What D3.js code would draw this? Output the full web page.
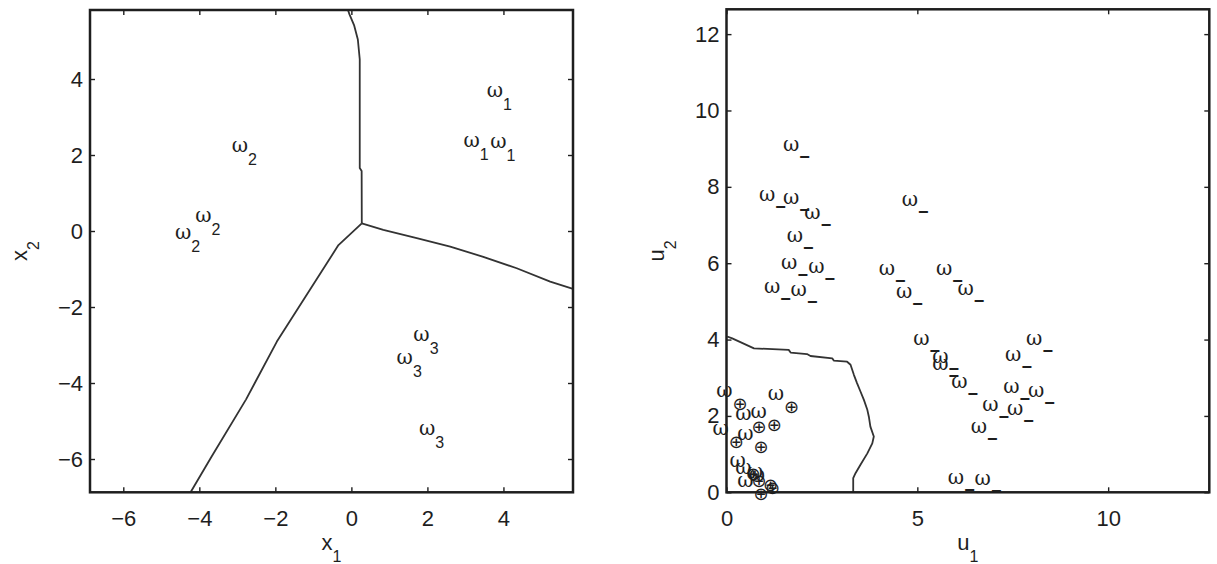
<!DOCTYPE html>
<html><head><meta charset="utf-8">
<script src="https://cdn.jsdelivr.net/npm/d3@7"></script>
<style>body{margin:0;background:#fff} svg{display:block}</style>
</head><body>
<svg id="c" width="1217" height="564"></svg>
<script>
// ---- Left panel data ----
const leftXTicks = [-6,-4,-2,0,2,4];
const leftYTicks = [-6,-4,-2,0,2,4];
const leftXDomain = [-6.876, 5.83];
const leftYDomain = [-6.876, 5.816];
const class1 = [[3.56,3.67],[2.95,2.34],[3.65,2.31]];
const class2 = [[-3.15,2.22],[-4.11,0.38],[-4.64,-0.08]];
const class3 = [[1.63,-2.76],[1.19,-3.37],[1.78,-5.24]];
const boundaryUp = [[0.274,0.2],[0.27,1.58],[0.22,1.66],[0.22,4.52],[0.17,5.04],[0.07,5.42],[-0.05,5.70],[-0.09,5.816]];
const boundaryRight = [[0.274,0.2],[0.84,0.03],[1.72,-0.19],[2.60,-0.41],[3.47,-0.68],[4.35,-0.98],[5.23,-1.33],[5.83,-1.52]];
const boundaryDown = [[0.274,0.2],[-0.34,-0.37],[-1.96,-2.91],[-2.77,-4.43],[-3.68,-5.94],[-4.23,-6.876]];

// ---- Right panel data ----
const rightXTicks = [0,5,10];
const rightYTicks = [0,2,4,6,8,10,12];
const rightXDomain = [0, 12.65];
const rightYDomain = [0, 12.65];
const classMinus = [[1.48,9.08],[0.85,7.76],[1.48,7.67],[2.04,7.29],[1.58,6.68],[1.43,5.97],[2.14,5.88],
  [0.98,5.36],[1.68,5.26],[4.59,7.62],[3.99,5.81],[4.44,5.22],[5.49,5.81],[6.05,5.31],[4.89,3.99],
  [5.39,3.52],[5.39,3.33],[5.89,2.86],[6.70,2.25],[6.40,1.68],[7.85,3.99],[7.30,3.57],[7.25,2.72],
  [7.90,2.64],[7.35,2.16],[5.80,0.36],[6.50,0.32]];
const classPlus = [[-0.27,2.64],[1.08,2.54],[0.23,2.02],[0.63,2.07],[-0.37,1.64],[0.28,1.51],
  [0.08,0.79],[0.23,0.60],[0.53,0.50],[0.28,0.27],[0.58,0.42]];
const boundaryPlus = [[0.02,4.08],[0.15,4.03],[0.72,3.77],[1.63,3.73],[1.68,3.66],[2.11,3.62],[2.20,3.57],
  [2.77,3.51],[2.81,3.45],[3.16,3.42],[3.25,3.34],[3.34,3.07],[3.42,2.86],[3.51,2.64],[3.60,2.42],
  [3.69,2.16],[3.73,1.98],[3.77,1.72],[3.86,1.46],[3.82,1.28],[3.69,1.02],[3.51,0.72],[3.38,0.50],
  [3.32,0.37],[3.32,0]];

const svg = d3.select("#c");
const INK = "#1e1e1e";

function panel(o) {
  const x = d3.scaleLinear().domain(o.xd).range([o.left, o.right]);
  const y = d3.scaleLinear().domain(o.yd).range([o.bottom, o.top]);
  const g = svg.append("g");
  const line = d3.line().x(d => x(d[0])).y(d => y(d[1]));
  o.lines.forEach(l => g.append("path").attr("d", line(l)).attr("fill","none")
     .attr("stroke","#333").attr("stroke-width",1.8).attr("stroke-linejoin","round"));

  o.labels.forEach(L => {
    const t = g.append("g").selectAll("text").data(L.pts).join("text")
      .attr("x", d => x(d[0])).attr("y", d => y(d[1]) + 5).attr("fill", INK);
    t.append("tspan").attr("font-family","DejaVu Serif").attr("font-size",20).text("ω");
    t.append("tspan").attr("font-family", L.font).attr("font-size", L.size)
      .attr("font-weight", L.weight || "normal").attr("dx", L.dx || 0).attr("dy", L.dy || 13).text(L.sub);
  });

  const styleAxis = a => { a.select(".domain").remove();
    a.attr("font-family","Liberation Sans").attr("font-size",22);
    a.selectAll("line").attr("stroke",INK).attr("stroke-width",1.4);
    a.selectAll("text").attr("fill",INK); };
  g.append("g").attr("transform",`translate(0,${o.bottom})`)
    .call(d3.axisBottom(x).tickValues(o.xt).tickSize(-5).tickSizeOuter(0).tickPadding(18.5)).call(styleAxis);
  g.append("g").attr("transform",`translate(0,${o.top})`)
    .call(d3.axisTop(x).tickValues(o.xt).tickSize(-5).tickSizeOuter(0).tickFormat("")).call(styleAxis);
  g.append("g").attr("transform",`translate(${o.left},0)`)
    .call(d3.axisLeft(y).tickValues(o.yt).tickSize(-5).tickSizeOuter(0).tickPadding(7)).call(styleAxis);
  g.append("g").attr("transform",`translate(${o.right},0)`)
    .call(d3.axisRight(y).tickValues(o.yt).tickSize(-5).tickSizeOuter(0).tickFormat("")).call(styleAxis);

  g.append("rect").attr("x",o.left).attr("y",o.top).attr("width",o.right-o.left).attr("height",o.bottom-o.top)
    .attr("fill","none").attr("stroke",INK).attr("stroke-width",2.5);

  // axis titles
  const xl = g.append("text").attr("x",(o.left+o.right)/2).attr("y",o.bottom+58).attr("text-anchor","middle")
    .attr("font-family","Liberation Sans").attr("font-size",22).attr("fill",INK);
  xl.append("tspan").text(o.xlab[0]);
  xl.append("tspan").attr("font-size",16).attr("dy",12).text(o.xlab[1]);
  const yl = g.append("text").attr("transform",`translate(${o.left-63},${(o.top+o.bottom)/2}) rotate(-90)`)
    .attr("text-anchor","middle").attr("font-family","Liberation Sans").attr("font-size",22).attr("fill",INK);
  yl.append("tspan").text(o.ylab[0]);
  yl.append("tspan").attr("font-size",16).attr("dy",12).text(o.ylab[1]);
}

panel({left:90, right:573, top:10, bottom:492.3, xd:leftXDomain, yd:leftYDomain,
  xt:leftXTicks, yt:leftYTicks, lines:[boundaryUp, boundaryRight, boundaryDown],
  labels:[{pts:class1, sub:"1", font:"Liberation Sans", size:16},
          {pts:class2, sub:"2", font:"Liberation Sans", size:16},
          {pts:class3, sub:"3", font:"Liberation Sans", size:16}],
  xlab:["x","1"], ylab:["x","2"]});

panel({left:726.5, right:1209.3, top:9.3, bottom:492.3, xd:rightXDomain, yd:rightYDomain,
  xt:rightXTicks, yt:rightYTicks, lines:[boundaryPlus],
  labels:[{pts:classMinus, sub:"−", font:"Liberation Sans", size:18, weight:"bold", dy:12},
          {pts:classPlus, sub:"⊕", font:"DejaVu Sans", size:18, dy:13}],
  xlab:["u","1"], ylab:["u","2"]});
</script>
</body></html>
